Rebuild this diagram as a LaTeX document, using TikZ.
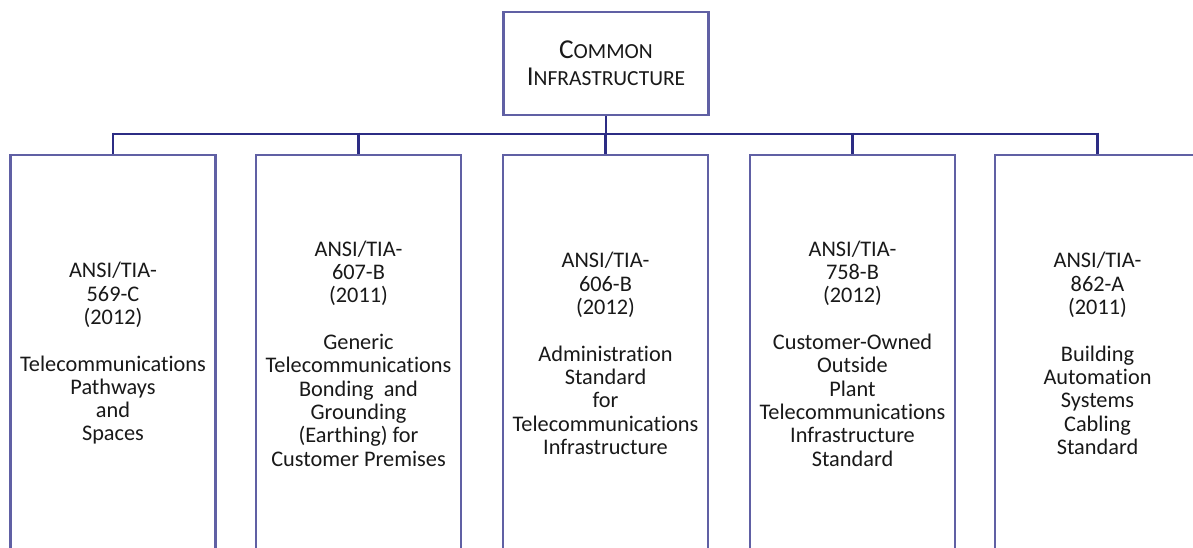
\documentclass[tikz,border=0pt]{standalone}
\usepackage{fontspec}
\setmainfont[Ligatures=NoCommon]{Carlito}
\definecolor{boxline}{RGB}{96,96,164}
\definecolor{conline}{RGB}{44,44,132}
\definecolor{txt}{RGB}{25,25,25}
\newcommand\bigsc[1]{{\fontsize{27.3}{27}\selectfont #1}}
\newcommand\smsc[1]{{\fontsize{21.5}{27}\selectfont #1}}
\begin{document}
\begin{tikzpicture}[x=1pt,y=-1pt,
  boxstyle/.style={draw=boxline, line width=2.8pt, fill=white, inner sep=0pt},
  childbox/.style={boxstyle, minimum width=205pt, minimum height=397pt, align=center,
    text=txt, font=\fontsize{22.3}{23.3}\selectfont},
  conn/.style={draw=conline, line width=2.8pt}]
\useasboundingbox (0,0) rectangle (1193,548);
\clip (0,0) rectangle (1193,548);
\fill[white] (0,0) rectangle (1193,548);
% connectors
\coordinate (hl) at (113,134);
\coordinate (hr) at (1097.5,134);
\coordinate (hc) at (606,134);
\draw[conn] (hl) -- (hr);
\node[boxstyle, minimum width=205pt, minimum height=103pt, align=center, text=txt,
  font=\fontsize{27.3}{27}\selectfont] (top) at (606,63.5)
  {\bigsc{C}\smsc{OMMON}\\\bigsc{I}\smsc{NFRASTRUCTURE}};
\draw[conn] (top.south) -- (hc);
\node[childbox] (c1) at (113,353.5) {ANSI/TIA-\\569-C\\(2012)\\[23.3pt]Telecommunications\\Pathways\\and\\Spaces};
\node[childbox] (c2) at (358.5,353.5) {ANSI/TIA-\\607-B\\(2011)\\[23.3pt]Generic\\Telecommunications\\Bonding\ \ and\\Grounding\\(Earthing) for\\Customer Premises};
\node[childbox] (c3) at (605.5,353.5) {ANSI/TIA-\\606-B\\(2012)\\[23.3pt]Administration\\Standard\\for\\Telecommunications\\Infrastructure};
\node[childbox] (c4) at (852.5,353.5) {ANSI/TIA-\\758-B\\(2012)\\[23.3pt]Customer-Owned\\Outside\\Plant\\Telecommunications\\Infrastructure\\Standard};
\node[childbox] (c5) at (1097.5,353.5) {ANSI/TIA-\\862-A\\(2011)\\[23.3pt]Building\\Automation\\Systems\\Cabling\\Standard};
\foreach \n in {c1,c2,c3,c4,c5} {
  \path (\n.north) ++(0,-21) coordinate (\n-up);
  \draw[conn] (\n-up) -- (\n.north);
}
\end{tikzpicture}
\end{document}
